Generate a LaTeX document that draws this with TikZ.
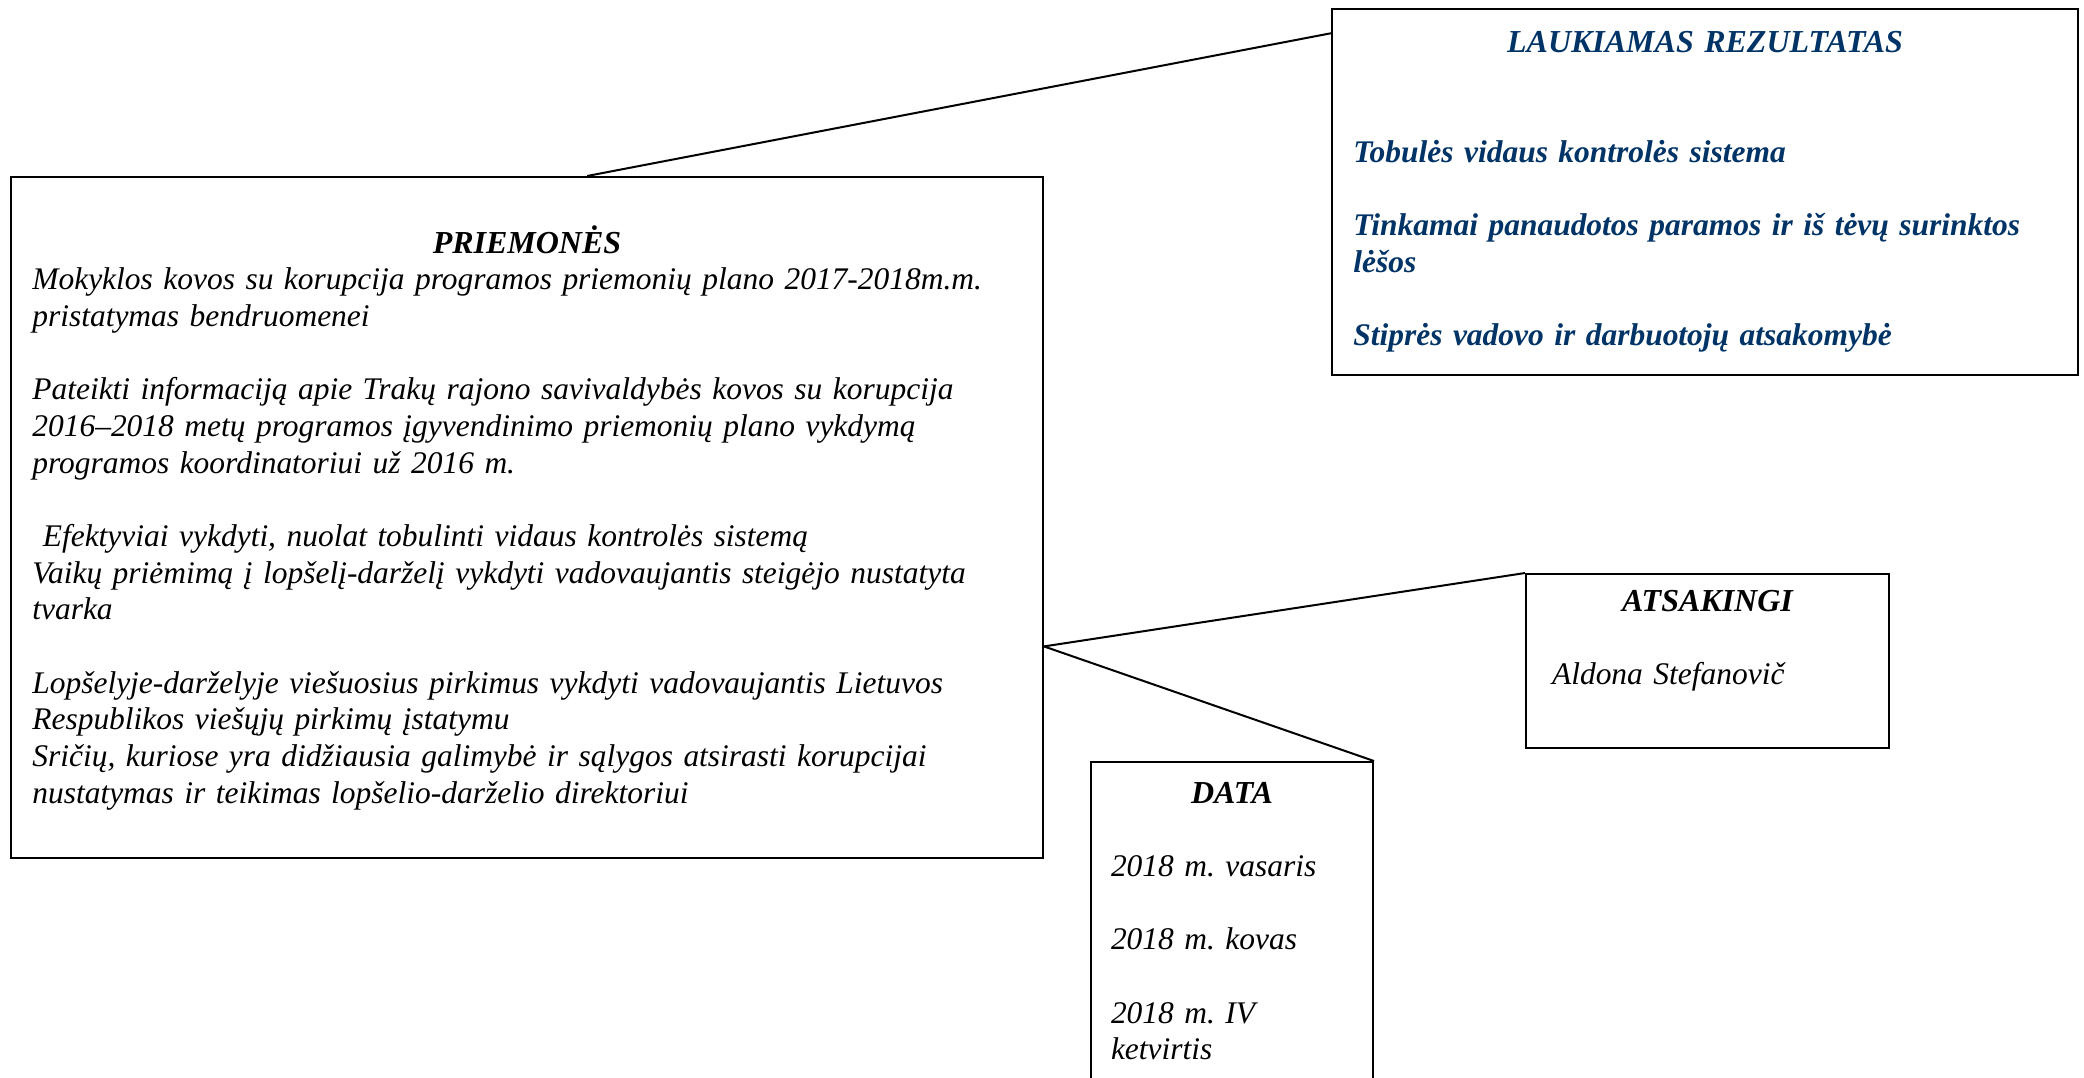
\documentclass[tikz,border=0pt]{standalone}
\usepackage{fontspec}
\setmainfont{Liberation Serif}
\definecolor{rezblue}{RGB}{0,51,102}
\frenchspacing
\newcommand{\boxtitle}[1]{\makebox[\hsize]{\fontsize{12}{13.75}\selectfont\bfseries #1}}

\begin{document}
\begin{tikzpicture}[x=0.375pt, y=-0.375pt, font=\fontsize{11.8}{13.75}\selectfont\itshape]
\tikzstyle{boxr}=[rectangle, draw=black, line width=0.75pt, inner ysep=0pt, align=left]
\tikzstyle{drawstyle}=[line width=0.75pt]
\useasboundingbox (0,0) rectangle (2084,1077);

\node[boxr, minimum width=387pt, minimum height=255.4pt, text width=371pt, inner xsep=8pt] (Priem) at (527,517.5) {\boxtitle{PRIEMONĖS}\\
Mokyklos kovos su korupcija programos priemonių plano 2017-2018m.m.\\
pristatymas bendruomenei\\[\baselineskip]
Pateikti informaciją apie Trakų rajono savivaldybės kovos su korupcija\\
2016–2018 metų programos įgyvendinimo priemonių plano vykdymą\\
programos koordinatoriui už 2016 m.\\[\baselineskip]
\ Efektyviai vykdyti, nuolat tobulinti vidaus kontrolės sistemą\\
Vaikų priėmimą į lopšelį-darželį vykdyti vadovaujantis steigėjo nustatyta\\
tvarka\\[\baselineskip]
Lopšelyje-darželyje viešuosius pirkimus vykdyti vadovaujantis Lietuvos\\
Respublikos viešųjų pirkimų įstatymu\\
Sričių, kuriose yra didžiausia galimybė ir sąlygos atsirasti korupcijai\\
nustatymas ir teikimas lopšelio-darželio direktoriui};

\node[boxr, text=rezblue, font=\fontsize{11.8}{13.75}\selectfont\bfseries\itshape, minimum width=279.75pt, minimum height=137.25pt, text width=263.75pt, inner xsep=8pt] (Rez) at (1705,192) {\boxtitle{LAUKIAMAS REZULTATAS}\\[2\baselineskip]
Tobulės vidaus kontrolės sistema\\[\baselineskip]
Tinkamai panaudotos paramos ir iš tėvų surinktos\\
lėšos\\[\baselineskip]
Stiprės vadovo ir darbuotojų atsakomybė};

\node[boxr, minimum width=136.1pt, minimum height=65.25pt, text width=116.6pt, inner xsep=9.75pt] (Ats) at (1707.5,661) {\boxtitle{ATSAKINGI}\\[\baselineskip]
Aldona Stefanovič\\
\strut};

\node[boxr, minimum width=105.75pt, minimum height=119.25pt, text width=90.75pt, inner xsep=7.5pt] (Data) at (1232,921) {\boxtitle{DATA}\\[\baselineskip]
2018 m. vasaris\\[\baselineskip]
2018 m. kovas\\[\baselineskip]
2018 m. IV\\
ketvirtis};

\draw[drawstyle] (Priem.80) -- (Rez.157);
\draw[drawstyle] (Priem.-14) -- (Ats.north west);
\draw[drawstyle] (Priem.-14) -- (Data.north east);
\end{tikzpicture}
\end{document}
